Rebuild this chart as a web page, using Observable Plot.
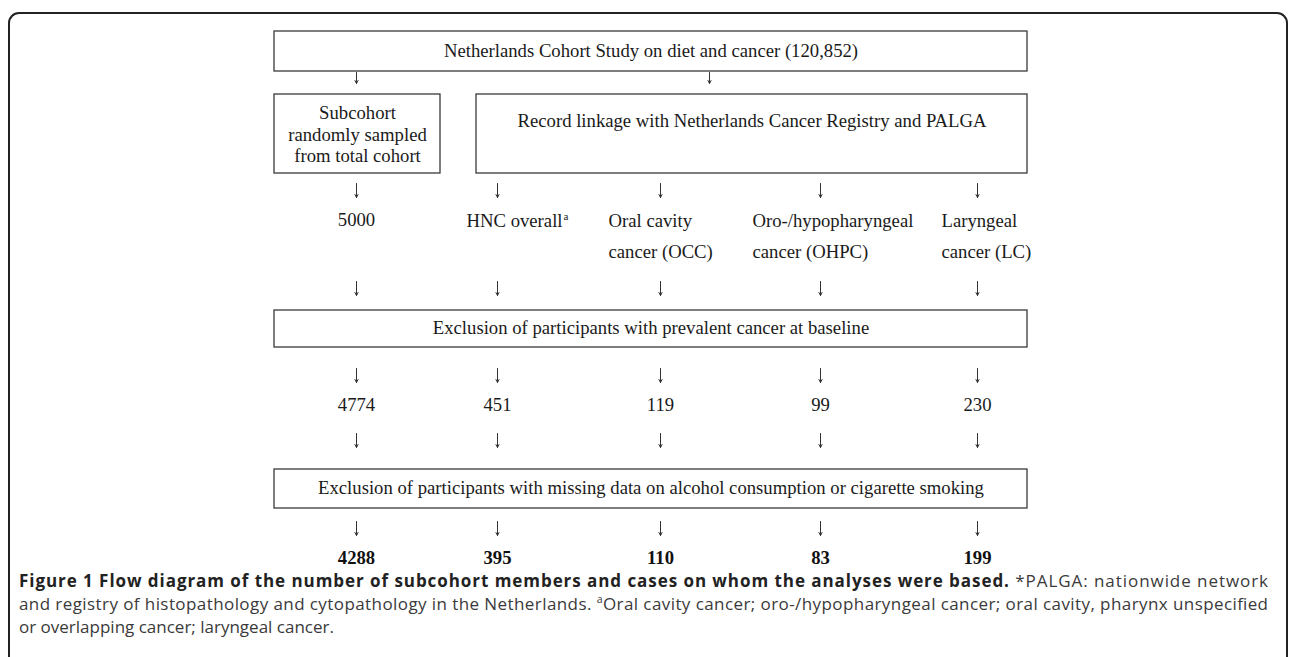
<!DOCTYPE html>
<html><head><meta charset="utf-8">
<script src="https://cdn.jsdelivr.net/npm/d3@7"></script>
<script src="https://cdn.jsdelivr.net/npm/@observablehq/plot@0.6"></script>
<style>
html,body{margin:0;padding:0;background:#fff;width:1290px;height:657px;overflow:hidden;position:relative;}
#frame{position:absolute;left:8px;top:12px;width:1280px;height:720px;border:2px solid #222;border-radius:11px;box-sizing:border-box;}
#chart{position:absolute;left:0;top:0;}
#caption{position:absolute;left:0;top:0;}
</style></head><body>
<div id="frame"></div>
<div id="chart"></div>
<div id="caption"></div>
<script>
// ---- data ----
const cohortLabel = "Netherlands Cohort Study on diet and cancer (120,852)";
const subcohortLabel = "Subcohort\nrandomly sampled\nfrom total cohort";
const linkageLabel = "Record linkage with Netherlands Cancer Registry and PALGA";
const exclusionLabels = [
  "Exclusion of participants with prevalent cancer at baseline",
  "Exclusion of participants with missing data on alcohol consumption or cigarette smoking"
];
const groupLabels = ["", "HNC overall", "Oral cavity\ncancer (OCC)", "Oro-/hypopharyngeal\ncancer (OHPC)", "Laryngeal\ncancer (LC)"];
const subcohortSampled = [5000];
const afterPrevalent = [4774, 451, 119, 99, 230];
const afterMissing = [4288, 395, 110, 83, 199];
const captionTitle = "Figure 1 Flow diagram of the number of subcohort members and cases on whom the analyses were based.";
const captionLines = [
  [{t:captionTitle, b:true}, {t:" *PALGA: nationwide network"}],
  [{t:"and registry of histopathology and cytopathology in the Netherlands. "}, {t:"a", sup:true}, {t:"Oral cavity cancer; oro-/hypopharyngeal cancer; oral cavity, pharynx unspecified"}],
  [{t:"or overlapping cancer; laryngeal cancer."}]
];

// ---- layout ----
const colX = [356, 497, 660, 820, 977];
const labelStart = [null, 466, 608, 752, 941];
const L = 274, R = 1027;
const rows = {box1:[31,71], box2:[94,173], exc1:[310,347], exc2:[469,508]};
const arrowRows = [[183,197],[281,295],[368,382],[433,447],[521,535]];
const serif = "'Liberation Serif','Times New Roman',serif";
const fs = 18.7;

const boxes = [
  {x1:L, x2:R, y1:rows.box1[0], y2:rows.box1[1], label:cohortLabel, ty:50},
  {x1:L, x2:440, y1:rows.box2[0], y2:rows.box2[1], label:subcohortLabel, ty:133.5},
  {x1:476, x2:R, y1:rows.box2[0], y2:rows.box2[1], label:linkageLabel, ty:120},
  {x1:L, x2:R, y1:rows.exc1[0], y2:rows.exc1[1], label:exclusionLabels[0], ty:327},
  {x1:L, x2:R, y1:rows.exc2[0], y2:rows.exc2[1], label:exclusionLabels[1], ty:487}
];
const arrows = [
  {x:colX[0], y1:72, y2:83},
  {x:709, y1:72, y2:83},
  ...arrowRows.flatMap(([a,b]) => colX.map(x => ({x, y1:a, y2:b})))
];
const groupData = groupLabels.map((g,i) => ({g, x:labelStart[i]})).filter(d => d.g);
const sampledData = subcohortSampled.map((v,i) => ({v, x:colX[i]}));
const prevData = afterPrevalent.map((v,i) => ({v, x:colX[i]}));
const missData = afterMissing.map((v,i) => ({v, x:colX[i]}));

// superscript position after "HNC overall"
const cv = document.createElement("canvas").getContext("2d");
cv.font = `${fs}px 'Liberation Serif'`;
const hncW = cv.measureText(groupLabels[1]).width;

const chart = Plot.plot({
  width:1290, height:570, margin:0,
  x:{domain:[0,1290], range:[0,1290], axis:null},
  y:{domain:[0,570], range:[0,570], axis:null},
  style:{background:"transparent"},
  marks:[
    Plot.rect(boxes, {x1:"x1", x2:"x2", y1:"y1", y2:"y2", fill:"white", stroke:"#3a3a3a", strokeWidth:1.3}),
    Plot.text(boxes, {x:d => (d.x1+d.x2)/2, y:"ty", text:"label", fontFamily:serif, fontSize:fs, fill:"#1a1a1a", lineHeight:1.15}),
    Plot.arrow(arrows, {x1:"x", x2:"x", y1:"y1", y2:"y2", stroke:"#333", strokeWidth:1, headLength:5, headAngle:55}),
    Plot.text(groupData, {x:"x", y:205, text:"g", textAnchor:"start", lineAnchor:"top", lineHeight:1.65, fontFamily:serif, fontSize:fs, fill:"#1a1a1a"}),
    Plot.text([groupLabels[1]], {x:labelStart[1] + hncW + 1, y:216, text:() => "a", textAnchor:"start", fontFamily:serif, fontSize:11, fill:"#1a1a1a"}),
    Plot.text(sampledData, {x:"x", y:220, text:d => String(d.v), fontFamily:serif, fontSize:fs, fill:"#1a1a1a"}),
    Plot.text(prevData, {x:"x", y:405, text:d => String(d.v), fontFamily:serif, fontSize:fs, fill:"#1a1a1a"}),
    Plot.text(missData, {x:"x", y:558, text:d => String(d.v), fontFamily:serif, fontSize:fs, fontWeight:"bold", fill:"#111"})
  ]
});
document.getElementById("chart").appendChild(chart);

// caption below the diagram (justified lines fitted with textLength)
const capX = 19, capW = 1249, capBase = [587, 610, 633];
const svg = d3.select("#caption").append("svg")
  .attr("width", 1290).attr("height", 657)
  .style("font-family", "'Open Sans',Lato,sans-serif").style("font-size", "17px");
captionLines.forEach((parts, i) => {
  const t = svg.append("text").attr("x", capX).attr("y", capBase[i]).attr("fill", "#3a3a3a");
  if (i < 2) t.attr("textLength", capW).attr("lengthAdjust", "spacing");
  parts.forEach(p => {
    const s = t.append("tspan").text(p.t);
    if (p.b) s.attr("font-weight", "bold").attr("fill", "#222");
    if (p.sup) s.attr("font-size", "10.5px").attr("baseline-shift", "super");
  });
});
</script>
</body></html>
